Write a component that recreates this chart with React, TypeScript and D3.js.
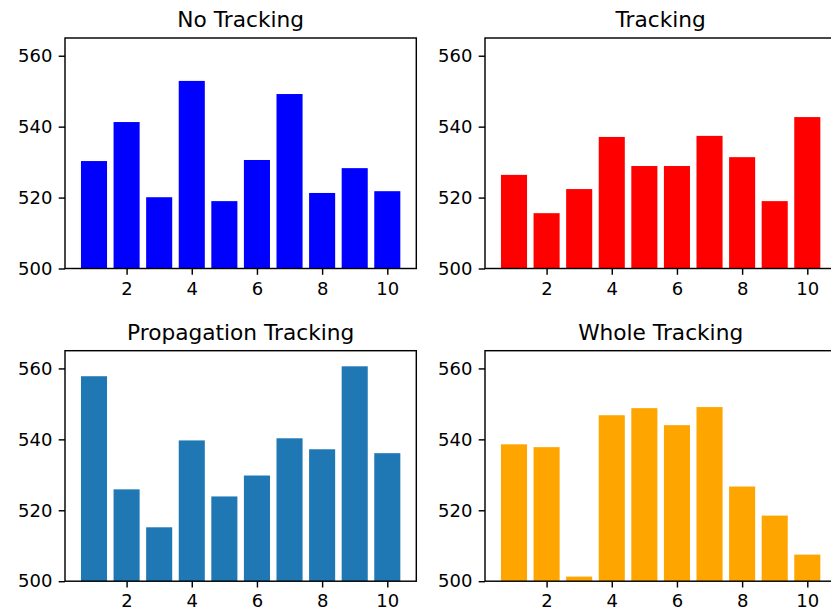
import React, { useEffect, useRef } from "react";
import * as d3 from "d3";

const categories = [1, 2, 3, 4, 5, 6, 7, 8, 9, 10];
const noTracking = [530.3, 541.3, 520.1, 552.9, 519.0, 530.6, 549.2, 521.3, 528.3, 521.8];
const tracking = [526.4, 515.6, 522.4, 537.1, 528.9, 528.9, 537.4, 531.4, 519.0, 542.7];
const propagationTracking = [557.8, 525.9, 515.2, 539.7, 523.9, 529.8, 540.3, 537.2, 560.6, 536.1];
const wholeTracking = [538.6, 537.8, 501.3, 546.8, 548.8, 544.0, 549.1, 526.7, 518.5, 507.5];
const titles = ["No Tracking", "Tracking", "Propagation Tracking", "Whole Tracking"];
const colors = ["#0000ff", "#ff0000", "#1f77b4", "#ffa500"];
const yTicks = [500, 520, 540, 560];
const xTicks = [2, 4, 6, 8, 10];

const W = 831;
const H = 615;

export default function App() {
  const ref = useRef<SVGSVGElement>(null);
  useEffect(() => {
    const svg = d3.select(ref.current);
    svg.selectAll("*").remove();
    const series = [noTracking, tracking, propagationTracking, wholeTracking];
    const lefts = [65, 485];
    const tops = [38, 350.7];
    const aw = 351.3;
    const ah = 230.5;
    const font = "DejaVu Sans, sans-serif";
    series.forEach((vals, k) => {
      const x0 = lefts[k % 2];
      const y0 = tops[Math.floor(k / 2)];
      const x = d3.scaleLinear().domain([0.11, 10.89]).range([x0, x0 + aw]);
      const y = d3.scaleLinear().domain([500, 565]).range([y0 + ah, y0]);
      const g = svg.append("g");
      g.selectAll("rect.bar")
        .data(vals)
        .enter()
        .append("rect")
        .attr("class", "bar")
        .attr("x", (_d, i) => x(categories[i] - 0.4))
        .attr("width", (_d, i) => x(categories[i] + 0.4) - x(categories[i] - 0.4))
        .attr("y", (d) => y(d))
        .attr("height", (d) => y(500) - y(d))
        .attr("fill", colors[k]);
      // frame
      g.append("rect")
        .attr("x", x0)
        .attr("y", y0)
        .attr("width", aw)
        .attr("height", ah)
        .attr("fill", "none")
        .attr("stroke", "#000")
        .attr("stroke-width", 1.44);
      const ay = g
        .append("g")
        .attr("transform", `translate(${x0},0)`)
        .call(d3.axisLeft(y).tickValues(yTicks).tickSize(6.3).tickSizeOuter(0).tickPadding(6.3).tickFormat(d3.format("d")));
      const ax = g
        .append("g")
        .attr("transform", `translate(0,${y0 + ah})`)
        .call(d3.axisBottom(x).tickValues(xTicks).tickSize(6.3).tickSizeOuter(0).tickPadding(6.3).tickFormat(d3.format("d")));
      [ax, ay].forEach((a) => {
        a.select(".domain").remove();
        a.selectAll("line").attr("stroke", "#000").attr("stroke-width", 1.44);
        a.selectAll("text").attr("fill", "#000").style("font-family", font).style("font-size", "18px");
      });
      ax.selectAll("text").attr("dy", "0.76em");
      g.append("text")
        .attr("x", x0 + aw / 2)
        .attr("y", y0 - 11)
        .attr("text-anchor", "middle")
        .style("font-family", font)
        .style("font-size", "21.7px")
        .attr("fill", "#000")
        .text(titles[k]);
    });
  }, []);
  return (
    <svg
      ref={ref}
      width={W}
      height={H}
      style={{ position: "absolute", left: 0, top: 0, background: "#fff" }}
    />
  );
}
